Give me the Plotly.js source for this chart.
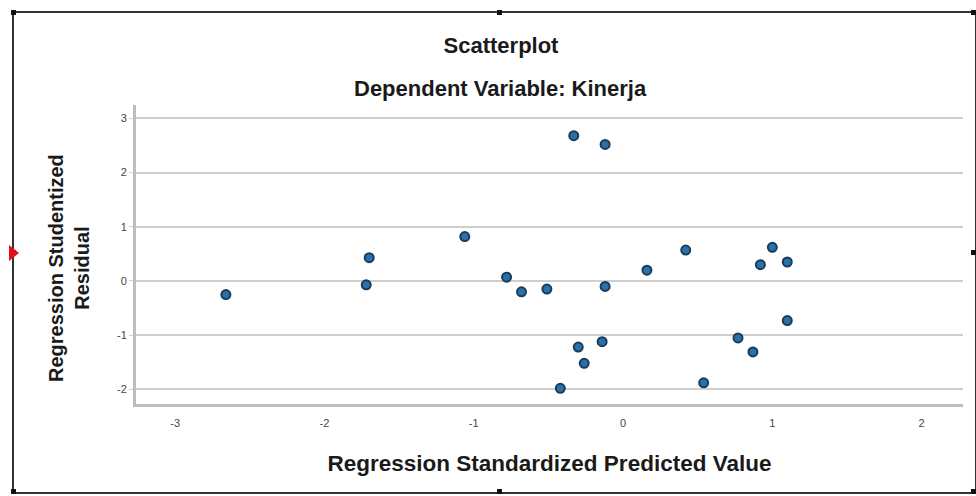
<!DOCTYPE html>
<html>
<head>
<meta charset="utf-8">
<script src="https://cdn.plot.ly/plotly-3.0.1.min.js"></script>
<style>
  html, body { margin: 0; padding: 0; background: #fff; }
  #wrap { position: relative; width: 976px; height: 496px; }
  #chart { position: absolute; left: 0; top: 0; width: 976px; height: 496px; }
  #frame { position: absolute; left: 12px; top: 11px; width: 961px; height: 479px;
           border: 2px solid #333; pointer-events: none; }
  .h { position: absolute; width: 5px; height: 5px; background: #111; pointer-events: none; }
  #tri { position: absolute; left: 9px; top: 245px; width: 0; height: 0;
         border-top: 8px solid transparent; border-bottom: 8px solid transparent;
         border-left: 10px solid #e0101a; pointer-events: none; }
</style>
</head>
<body>
<div id="wrap">
  <div id="chart"></div>
  <div id="frame"></div>
  <div class="h" style="left:11px;top:10px"></div>
  <div class="h" style="left:497px;top:10px"></div>
  <div class="h" style="left:971px;top:10px"></div>
  <div class="h" style="left:11px;top:250px"></div>
  <div class="h" style="left:971px;top:250px"></div>
  <div class="h" style="left:11px;top:489px"></div>
  <div class="h" style="left:497px;top:489px"></div>
  <div class="h" style="left:971px;top:489px"></div>
  <div id="tri"></div>
</div>
<script>
// Regression Standardized Predicted Value
const predicted = [-2.66, -1.72, -1.70, -1.06, -0.78, -0.68, -0.51, -0.12, 0.16, 0.42,
                   1.00, 0.92, 1.10, 1.10, 0.77, 0.87, 0.54, -0.14, -0.30, -0.26,
                   -0.42, -0.33, -0.12];
// Regression Studentized Residual
const residual = [-0.25, -0.07, 0.43, 0.82, 0.07, -0.20, -0.15, -0.10, 0.20, 0.57,
                  0.62, 0.30, 0.35, -0.73, -1.05, -1.31, -1.88, -1.12, -1.22, -1.52,
                  -1.98, 2.68, 2.52];
const xTicks = [-3, -2, -1, 0, 1, 2];
const yTicks = [-2, -1, 0, 1, 2, 3];

const trace = {
  x: predicted, y: residual, type: 'scatter', mode: 'markers',
  marker: { size: 9, color: '#2a70aa', line: { color: '#1b3b5a', width: 2 } },
  hoverinfo: 'x+y'
};

const layout = {
  width: 976, height: 496,
  margin: { l: 136, r: 13, t: 105, b: 92 },
  paper_bgcolor: '#fff', plot_bgcolor: '#fff',
  showlegend: false,
  font: { family: 'Liberation Sans, Arial, sans-serif', color: '#222' },
  title: { text: 'Scatterplot', x: 501/976, xref: 'container', xanchor: 'center',
           y: 1 - 45/496, yref: 'container', yanchor: 'middle',
           font: { size: 22, color: '#1a1a1a', weight: 'bold' } },
  xaxis: {
    range: [-3.262, 2.277], tickvals: xTicks, ticktext: xTicks.map(String),
    showgrid: false, zeroline: false, showline: true, linecolor: '#bdbdbd', linewidth: 3,
    ticks: 'outside', ticklen: 7, tickcolor: 'rgba(0,0,0,0)', tickfont: { size: 11, color: '#444' },
    title: { text: 'Regression Standardized Predicted Value', standoff: 28,
             font: { size: 22.5, color: '#1a1a1a', weight: 'bold' } }
  },
  yaxis: {
    range: [-2.27, 3.247], tickvals: yTicks, ticktext: yTicks.map(String),
    showgrid: true, gridcolor: '#cfcfcf', gridwidth: 2, zeroline: false,
    showline: true, linecolor: '#bdbdbd', linewidth: 3,
    ticks: 'outside', ticklen: 4, tickcolor: '#d0d0d0', tickfont: { size: 11, color: '#444' }
  },
  annotations: [
    { text: 'Dependent Variable: Kinerja', xref: 'paper', yref: 'paper',
      x: (500-136)/827, y: (404-88)/299, xanchor: 'center', yanchor: 'middle',
      showarrow: false, font: { size: 22, color: '#1a1a1a', weight: 'bold' } },
    { text: 'Regression Studentized<br>Residual', xref: 'paper', yref: 'paper',
      x: (69-136)/827, y: (404-268)/299, xanchor: 'center', yanchor: 'middle',
      textangle: -90, showarrow: false, font: { size: 20, color: '#1a1a1a', weight: 'bold' } }
  ]
};

Plotly.newPlot('chart', [trace], layout, { displayModeBar: false, staticPlot: true });
</script>
</body>
</html>
